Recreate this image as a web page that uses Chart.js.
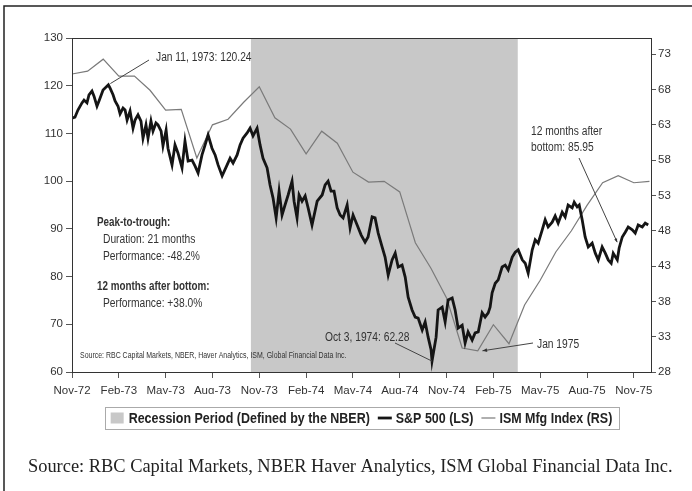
<!DOCTYPE html>
<html>
<head>
<meta charset="utf-8">
<script src="https://cdn.jsdelivr.net/npm/chart.js@4.4.1/dist/chart.umd.min.js"></script>
<style>
  html, body { margin: 0; padding: 0; background: #fff; }
  #wrap { position: relative; width: 692px; height: 491px; }
</style>
</head>
<body>
<div id="wrap"><canvas id="chart" width="692" height="491"></canvas></div>
<script>
// x values are months counted from Nov-72 (0 = Nov-72, 36 = Nov-75)
const X_TICK_MONTHS = [0, 3, 6, 9, 12, 15, 18, 21, 24, 27, 30, 33, 36];
const X_TICK_LABELS = ['Nov-72', 'Feb-73', 'May-73', 'Aug-73', 'Nov-73', 'Feb-74', 'May-74',
                       'Aug-74', 'Nov-74', 'Feb-75', 'May-75', 'Aug-75', 'Nov-75'];
const LS_TICKS = [60, 70, 80, 90, 100, 110, 120, 130];
const RS_TICKS = [28, 33, 38, 43, 48, 53, 58, 63, 68, 73];

// NBER recession, Nov-73 to Mar-75
const RECESSION = [11.45, 28.57];

// ISM manufacturing index, monthly
const ISM_MONTHS = [0, 1, 2, 3, 4, 5, 6, 7, 8, 9, 10, 11, 12, 13, 14, 15, 16, 17, 18, 19,
                    20, 21, 22, 23, 24, 25, 26, 27, 28, 29, 30, 31, 32, 33, 34, 35, 36, 37];
const ISM_VALUES = [70.2, 70.6, 72.3, 69.9, 69.9, 67.9, 65.1, 65.2, 58.3, 63.0,
                    63.8, 66.2, 68.4, 64.0, 62.4, 58.9, 62.1, 60.4, 56.3, 54.9,
                    55.0, 53.5, 46.3, 42.7, 38.5, 31.4, 31.0, 34.7, 32.0, 37.5,
                    41.0, 45.0, 48.0, 51.6, 54.8, 55.8, 54.8, 55.0];

// S&P 500, read off roughly weekly
const SP_MONTHS = [0, 0.19, 0.38, 0.64, 0.77, 0.96, 1.09, 1.28, 1.41, 1.60,
  1.73, 1.99, 2.33, 2.44, 2.63, 2.76, 2.95, 3.08, 3.27, 3.40,
  3.53, 3.72, 3.91, 4.04, 4.23, 4.42, 4.55, 4.74, 4.87, 5.06,
  5.19, 5.38, 5.51, 5.71, 5.83, 6.03, 6.15, 6.41, 6.60, 6.79,
  7.05, 7.24, 7.44, 7.69, 7.88, 8.08, 8.33, 8.53, 8.72, 8.97,
  9.17, 9.36, 9.62, 9.94, 10.13, 10.32, 10.58, 10.77, 10.96, 11.22,
  11.41, 11.60, 11.86, 12.05, 12.24, 12.50, 12.69, 12.88, 13.08, 13.27,
  13.46, 13.65, 13.85, 14.10, 14.23, 14.42, 14.55, 14.74, 14.94, 15.13,
  15.38, 15.71, 16.03, 16.22, 16.41, 16.60, 16.79, 16.99, 17.18, 17.37,
  17.63, 17.82, 18.01, 18.27, 18.53, 18.78, 18.97, 19.23, 19.42, 19.62,
  19.87, 20.06, 20.26, 20.51, 20.71, 20.90, 21.15, 21.35, 21.54, 21.79,
  21.99, 22.18, 22.44, 22.63, 22.82, 23.01, 23.07, 23.33, 23.46, 23.72,
  23.91, 24.10, 24.36, 24.55, 24.74, 25.00, 25.19, 25.38, 25.64, 25.83,
  26.03, 26.28, 26.47, 26.67, 26.79, 26.92, 27.12, 27.31, 27.56, 27.76,
  27.95, 28.21, 28.40, 28.59, 28.85, 29.04, 29.23, 29.49, 29.68, 29.87,
  30.13, 30.32, 30.51, 30.77, 30.96, 31.15, 31.41, 31.60, 31.79, 32.05,
  32.18, 32.37, 32.50, 32.69, 32.88, 33.08, 33.33, 33.53, 33.72, 33.97,
  34.17, 34.36, 34.55, 34.68, 34.94, 35.06, 35.26, 35.45, 35.64, 35.90,
  36.09, 36.28, 36.54, 36.73, 36.92];
const SP_VALUES = [113.2, 113.4, 114.9, 116.4, 117.0, 116.4, 118.1, 118.9, 117.8, 115.7,
  116.8, 119.1, 120.2, 119.5, 118.1, 116.8, 115.7, 114.1, 115.3, 114.9,
  112.8, 114.7, 111.1, 112.8, 113.9, 112.6, 109.0, 111.8, 109.0, 112.6,
  110.5, 112.2, 111.8, 110.5, 107.4, 110.7, 106.9, 103.4, 107.6, 105.9,
  102.8, 108.4, 104.2, 104.4, 103.2, 101.7, 105.5, 107.6, 109.7, 106.9,
  105.5, 103.4, 101.1, 103.4, 104.8, 103.8, 105.5, 107.6, 109.0, 110.1,
  111.1, 109.5, 111.1, 107.6, 104.8, 102.8, 99.2, 96.5, 92.3, 97.9,
  92.9, 95.0, 97.1, 100.0, 95.8, 92.3, 97.1, 95.8, 96.9, 94.4,
  90.8, 95.8, 97.1, 99.2, 100.0, 97.9, 97.9, 94.4, 92.9, 92.3,
  95.0, 90.2, 92.9, 90.8, 88.7, 87.2, 88.3, 92.5, 92.3, 89.1,
  86.2, 84.1, 80.3, 83.5, 84.9, 82.0, 82.4, 79.9, 75.7, 73.0,
  71.5, 71.3, 68.8, 70.5, 67.3, 64.6, 62.3, 67.3, 73.0, 73.6,
  70.5, 75.1, 75.5, 73.0, 69.2, 69.8, 66.1, 68.4, 66.7, 68.2,
  68.4, 72.4, 71.5, 72.4, 73.6, 76.6, 78.6, 79.3, 82.0, 82.4,
  81.4, 84.1, 85.1, 85.6, 83.5, 82.8, 80.7, 85.6, 87.7, 87.0,
  89.8, 91.9, 90.4, 91.4, 92.7, 91.2, 93.5, 92.5, 95.0, 94.4,
  95.6, 94.6, 95.0, 91.9, 88.3, 86.2, 87.0, 84.9, 83.5, 86.2,
  84.9, 83.5, 82.8, 84.9, 83.5, 86.0, 88.3, 89.3, 90.4, 89.8,
  89.1, 90.8, 90.4, 91.2, 90.8];

// marked points: peak, trough, ISM low, 12 months after bottom
const PEAK = [2.33, 120.24];
const TROUGH = [23.07, 62.28];
const ISM_LOW = [26.3, 31.0];
const AFTER_12M = [35.06, 85.95];

const SANS = '"Liberation Sans", Arial, sans-serif';
const NARROW = 0.82; // horizontal squeeze to mimic Arial Narrow
const TEXT_COL = '#333';

const spData = SP_MONTHS.map((m, i) => ({ x: m, y: SP_VALUES[i] }));
const ismData = ISM_MONTHS.map((m, i) => ({ x: m, y: ISM_VALUES[i] }));
const recData = RECESSION.map(m => ({ x: m, y: LS_TICKS[LS_TICKS.length - 1] }));

// narrow text: draw with a horizontal scale
function narrowText(ctx, text, x, y, font, squeeze) {
    ctx.save();
    ctx.font = font;
    ctx.translate(x, y);
    ctx.scale(squeeze, 1);
    ctx.fillText(text, 0, 0);
    const w = ctx.measureText(text).width * squeeze;
    ctx.restore();
    return w;
}

function arrowHead(ctx, x1, y1, x2, y2, size) {
    const a = Math.atan2(y2 - y1, x2 - x1);
    ctx.beginPath();
    ctx.moveTo(x2, y2);
    ctx.lineTo(x2 - size * Math.cos(a - 0.4), y2 - size * Math.sin(a - 0.4));
    ctx.lineTo(x2 - size * Math.cos(a + 0.4), y2 - size * Math.sin(a + 0.4));
    ctx.closePath();
    ctx.fill();
}

const notesPlugin = {
    id: 'notes',
    beforeDraw(chart) {
        const ctx = chart.ctx;
        ctx.save();
        ctx.fillStyle = '#fff';
        ctx.fillRect(0, 0, chart.width, chart.height);
        ctx.restore();
    },
    afterDatasetsDraw(chart) {
        const ctx = chart.ctx;
        const sx = chart.scales.x, sy = chart.scales.y, sr = chart.scales.y1;
        const reg = '12.5px ' + SANS, bold = 'bold 12px ' + SANS;
        ctx.save();
        ctx.fillStyle = TEXT_COL;
        ctx.strokeStyle = '#444';
        ctx.lineWidth = 1;
        ctx.textBaseline = 'middle';
        ctx.textAlign = 'left';

        // peak
        narrowText(ctx, 'Jan 11, 1973: 120.24', 156, 58, reg, NARROW);
        ctx.beginPath();
        ctx.moveTo(149, 60);
        ctx.lineTo(sx.getPixelForValue(PEAK[0]) + 2, sy.getPixelForValue(PEAK[1]) - 1);
        ctx.stroke();

        // trough
        narrowText(ctx, 'Oct 3, 1974: 62.28', 325, 338, reg, NARROW);
        ctx.beginPath();
        ctx.moveTo(395, 343);
        ctx.lineTo(sx.getPixelForValue(TROUGH[0]), sy.getPixelForValue(TROUGH[1]));
        ctx.stroke();

        // ISM low
        narrowText(ctx, 'Jan 1975', 537, 345, reg, NARROW);
        const jx = sx.getPixelForValue(ISM_LOW[0]), jy = sr.getPixelForValue(ISM_LOW[1]);
        ctx.beginPath();
        ctx.moveTo(533, 343);
        ctx.lineTo(jx, jy);
        ctx.stroke();
        arrowHead(ctx, 533, 343, jx, jy, 5);

        // 12 months after bottom
        narrowText(ctx, '12 months after', 531, 132, reg, NARROW);
        narrowText(ctx, 'bottom: 85.95', 531, 148, reg, NARROW);
        const bx = sx.getPixelForValue(AFTER_12M[0]) - 2, by = sy.getPixelForValue(AFTER_12M[1]) - 6;
        ctx.beginPath();
        ctx.moveTo(579, 158);
        ctx.lineTo(bx, by);
        ctx.stroke();
        arrowHead(ctx, 579, 158, bx, by, 4);

        // summary block
        narrowText(ctx, 'Peak-to-trough:', 97, 223, bold, NARROW);
        narrowText(ctx, '12 months after bottom:', 97, 287, bold, NARROW);
        narrowText(ctx, 'Duration: 21 months', 103, 240, reg, NARROW);
        narrowText(ctx, 'Performance: -48.2%', 103, 257, reg, NARROW);
        narrowText(ctx, 'Performance: +38.0%', 103, 304, reg, NARROW);

        narrowText(ctx, 'Source: RBC Capital Markets, NBER, Haver Analytics, ISM, Global Financial Data Inc.',
                   80, 356, '8.5px ' + SANS, NARROW);
        ctx.restore();
    },
    afterDraw(chart) {
        const ctx = chart.ctx;
        const a = chart.chartArea;
        ctx.save();
        // plot frame
        ctx.strokeStyle = '#333';
        ctx.lineWidth = 1;
        ctx.strokeRect(a.left + 0.5, a.top + 0.5, a.right - a.left, a.bottom - a.top);

        // outer frame (top and left edges visible)
        ctx.strokeStyle = '#222';
        ctx.lineWidth = 1.5;
        ctx.beginPath();
        ctx.moveTo(692, 6);
        ctx.lineTo(4, 6);
        ctx.lineTo(4, 491);
        ctx.stroke();

        // legend
        const ds = chart.data.datasets;
        const lfont = 'bold 14.5px ' + SANS, lsq = 0.86;
        ctx.font = lfont;
        ctx.textBaseline = 'middle';
        const gap = 8, sample = 14, pad = 6;
        const widths = ds.map(d => ctx.measureText(d.label).width * lsq);
        let total = pad * 2;
        ds.forEach((d, i) => { total += sample + 4 + widths[i] + (i ? gap : 0); });
        const cx = (a.left + a.right) / 2;
        let x = cx - total / 2;
        const top = 407, h = 22, cy = top + h / 2;
        ctx.strokeStyle = '#aaa';
        ctx.lineWidth = 1;
        ctx.strokeRect(Math.round(x) + 0.5, top + 0.5, Math.round(total), h);
        x += pad;
        ds.forEach((d, i) => {
            if (i) x += gap;
            if (d.fill) {
                ctx.fillStyle = d.backgroundColor;
                ctx.fillRect(x, cy - 5.5, 13, 11);
            } else {
                ctx.strokeStyle = d.borderColor;
                ctx.lineWidth = d.borderWidth;
                ctx.beginPath();
                ctx.moveTo(x, cy);
                ctx.lineTo(x + sample, cy);
                ctx.stroke();
            }
            x += sample + 4;
            ctx.fillStyle = '#222';
            narrowText(ctx, d.label, x, cy + 1, lfont, lsq);
            x += widths[i];
        });

        // source line under the chart
        ctx.font = '18.4px "Liberation Serif", "Times New Roman", serif';
        ctx.fillStyle = '#222';
        ctx.fillText('Source: RBC Capital Markets, NBER Haver Analytics, ISM Global Financial Data Inc.', 28, 467);
        ctx.restore();
    }
};

const tickFont = { family: SANS, size: 11.5 };

new Chart(document.getElementById('chart'), {
    type: 'line',
    data: {
        datasets: [
            {
                label: 'Recession Period (Defined by the NBER)',
                data: recData,
                yAxisID: 'y',
                fill: 'start',
                backgroundColor: '#c8c8c8',
                borderWidth: 0,
                pointRadius: 0,
                order: 3
            },
            {
                label: 'S&P 500 (LS)',
                data: spData,
                yAxisID: 'y',
                borderColor: '#151515',
                borderWidth: 2.8,
                pointRadius: 0,
                tension: 0,
                fill: false,
                order: 1
            },
            {
                label: 'ISM Mfg Index (RS)',
                data: ismData,
                yAxisID: 'y1',
                borderColor: '#7a7a7a',
                borderWidth: 1.2,
                pointRadius: 0,
                tension: 0,
                fill: false,
                order: 2
            }
        ]
    },
    options: {
        responsive: false,
        animation: false,
        events: [],
        layout: { padding: { left: 4, right: 4, top: 38, bottom: 97 } },
        plugins: {
            legend: { display: false },
            tooltip: { enabled: false }
        },
        scales: {
            x: {
                type: 'linear',
                min: 0,
                max: 37.1,
                afterBuildTicks: (axis) => { axis.ticks = X_TICK_MONTHS.map(v => ({ value: v })); },
                afterFit: (axis) => { axis.height = 22; },
                ticks: {
                    callback: (value, index) => X_TICK_LABELS[index],
                    font: tickFont,
                    color: TEXT_COL,
                    padding: 6,
                    maxRotation: 0,
                    autoSkip: false
                },
                grid: { drawOnChartArea: false, tickLength: 6, color: '#555' },
                border: { color: '#333' }
            },
            y: {
                position: 'left',
                min: 60,
                max: 130,
                afterBuildTicks: (axis) => { axis.ticks = LS_TICKS.map(v => ({ value: v })); },
                afterFit: (axis) => { axis.width = 68; },
                ticks: { font: tickFont, color: TEXT_COL, padding: 3 },
                grid: { drawOnChartArea: false, tickLength: 6, color: '#555' },
                border: { color: '#333' }
            },
            y1: {
                position: 'right',
                min: 28,
                max: 75.3,
                afterBuildTicks: (axis) => { axis.ticks = RS_TICKS.map(v => ({ value: v })); },
                afterFit: (axis) => { axis.width = 37; },
                ticks: { font: tickFont, color: TEXT_COL, padding: 2 },
                grid: { drawOnChartArea: false, tickLength: 5, color: '#555' },
                border: { color: '#333' }
            }
        }
    },
    plugins: [notesPlugin]
});
</script>
</body>
</html>
